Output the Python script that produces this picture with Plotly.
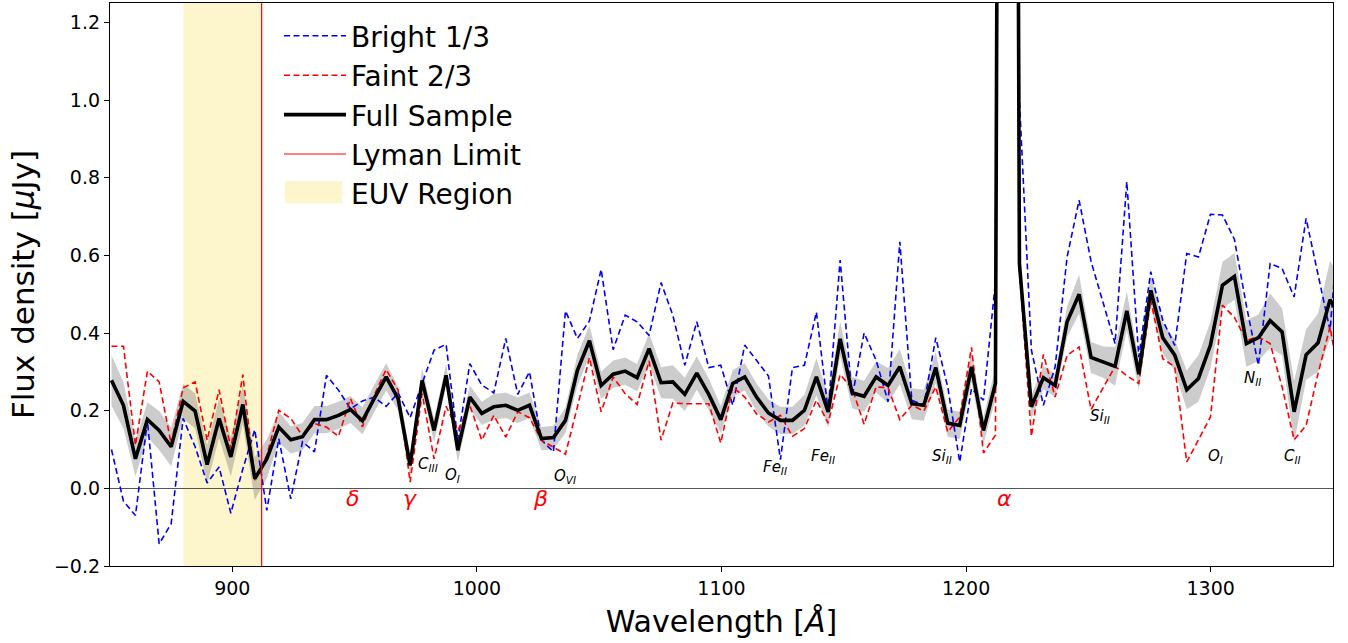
import plotly.graph_objects as go

# ---------------- data ----------------
wavelength = [
    850.6, 855.5, 860.4, 865.3, 870.1, 875.0, 879.9, 884.8, 889.7, 894.6,
    899.4, 904.3, 909.2, 914.1, 919.0, 923.9, 928.7, 933.6, 938.5, 943.4,
    948.3, 953.2, 958.0, 962.9, 967.8, 972.7, 977.6, 982.5, 987.4, 992.2,
    997.1, 1002.0, 1006.9, 1011.8, 1016.7, 1021.5, 1026.4, 1031.3, 1036.2, 1041.1,
    1046.0, 1050.8, 1055.7, 1060.6, 1065.5, 1070.4, 1075.3, 1080.1, 1085.0, 1089.9,
    1094.8, 1099.7, 1104.6, 1109.5, 1114.3, 1119.2, 1124.1, 1129.0, 1133.9, 1138.8,
    1143.6, 1148.5, 1153.4, 1158.3, 1163.2, 1168.1, 1172.9, 1177.8, 1182.7, 1187.6,
    1192.5, 1197.4, 1202.2, 1207.1, 1212.0, 1216.9, 1221.8, 1226.7, 1231.6, 1236.4,
    1241.3, 1246.2, 1251.1, 1256.0, 1260.9, 1265.7, 1270.6, 1275.5, 1280.4, 1285.3,
    1290.2, 1295.0, 1299.9, 1304.8, 1309.7, 1314.6, 1319.5, 1324.3, 1329.2, 1334.1,
    1339.0, 1343.9, 1348.8, 1353.7,
]

bright = [
    0.100, -0.033, -0.070, 0.174, -0.143, -0.091, 0.180, 0.107, 0.014, 0.055,
    -0.064, 0.050, 0.151, -0.057, 0.128, -0.027, 0.120, 0.094, 0.291, 0.253,
    0.205, 0.225, 0.235, 0.211, 0.246, 0.182, 0.270, 0.356, 0.371, 0.124,
    0.321, 0.266, 0.246, 0.386, 0.242, 0.300, 0.124, 0.094, 0.457, 0.386,
    0.431, 0.564, 0.357, 0.446, 0.429, 0.394, 0.530, 0.446, 0.317, 0.429,
    0.311, 0.317, 0.214, 0.369, 0.330, 0.289, 0.074, 0.311, 0.317, 0.454,
    0.200, 0.588, 0.235, 0.400, 0.330, 0.223, 0.635, 0.227, 0.214, 0.388,
    0.261, 0.068, 0.257, 0.227, 0.532, 10.0, 1.000, 0.356, 0.214, 0.313,
    0.596, 0.742, 0.584, 0.480, 0.373, 0.790, 0.338, 0.558, 0.433, 0.368,
    0.605, 0.596, 0.706, 0.704, 0.641, 0.470, 0.317, 0.579, 0.566, 0.493,
    0.695, 0.550, 0.407, 0.790,
]

faint = [
    0.366, 0.366, 0.111, 0.302, 0.274, 0.115, 0.259, 0.274, 0.124, 0.254,
    0.102, 0.293, 0.021, 0.085, 0.201, 0.180, 0.135, 0.167, 0.158, 0.134,
    0.231, 0.158, 0.240, 0.306, 0.253, 0.016, 0.244, 0.076, 0.211, 0.149,
    0.214, 0.124, 0.188, 0.132, 0.197, 0.182, 0.124, 0.107, 0.088, 0.210,
    0.337, 0.197, 0.287, 0.244, 0.216, 0.328, 0.124, 0.220, 0.218, 0.218,
    0.218, 0.117, 0.261, 0.235, 0.192, 0.171, 0.188, 0.134, 0.154, 0.227,
    0.168, 0.293, 0.257, 0.165, 0.261, 0.259, 0.177, 0.214, 0.199, 0.261,
    0.145, 0.184, 0.363, 0.091, 0.137, 7.0, 0.560, 0.134, 0.345, 0.235,
    0.343, 0.364, 0.203, 0.259, 0.314, 0.290, 0.270, 0.485, 0.334, 0.313,
    0.068, 0.125, 0.184, 0.472, 0.440, 0.381, 0.390, 0.373, 0.261, 0.125,
    0.162, 0.296, 0.416, 0.236,
]

full = [
    0.278, 0.214, 0.076, 0.177, 0.149, 0.107, 0.224, 0.199, 0.061, 0.180,
    0.081, 0.216, 0.025, 0.076, 0.158, 0.125, 0.133, 0.177, 0.177, 0.188,
    0.203, 0.174, 0.231, 0.287, 0.231, 0.059, 0.278, 0.149, 0.291, 0.098,
    0.235, 0.193, 0.210, 0.214, 0.201, 0.214, 0.128, 0.131, 0.175, 0.304,
    0.380, 0.265, 0.294, 0.302, 0.285, 0.360, 0.272, 0.274, 0.242, 0.297,
    0.242, 0.177, 0.270, 0.287, 0.235, 0.194, 0.175, 0.175, 0.201, 0.287,
    0.197, 0.385, 0.246, 0.237, 0.287, 0.265, 0.313, 0.218, 0.214, 0.311,
    0.168, 0.162, 0.313, 0.149, 0.270, 9.0, 0.579, 0.210, 0.285, 0.265,
    0.429, 0.500, 0.337, 0.325, 0.314, 0.457, 0.294, 0.510, 0.388, 0.343,
    0.254, 0.283, 0.369, 0.523, 0.546, 0.373, 0.388, 0.432, 0.403, 0.197,
    0.344, 0.375, 0.486, 0.435,
]

full_err = [
    0.065, 0.060, 0.045, 0.045, 0.050, 0.050, 0.045, 0.045, 0.050, 0.050,
    0.050, 0.050, 0.055, 0.050, 0.040, 0.035, 0.035, 0.035, 0.035, 0.035,
    0.035, 0.035, 0.035, 0.035, 0.030, 0.030, 0.030, 0.030, 0.030, 0.030,
    0.030, 0.030, 0.033, 0.033, 0.033, 0.033, 0.030, 0.030, 0.033, 0.040,
    0.040, 0.035, 0.035, 0.035, 0.035, 0.040, 0.040, 0.043, 0.043, 0.043,
    0.040, 0.035, 0.035, 0.035, 0.035, 0.035, 0.035, 0.035, 0.040, 0.048,
    0.040, 0.045, 0.040, 0.040, 0.040, 0.045, 0.045, 0.040, 0.040, 0.040,
    0.035, 0.035, 0.040, 0.035, 0.040, 0.500, 0.050, 0.030, 0.030, 0.030,
    0.040, 0.050, 0.040, 0.040, 0.050, 0.050, 0.040, 0.040, 0.040, 0.040,
    0.050, 0.060, 0.060, 0.060, 0.060, 0.060, 0.060, 0.070, 0.060, 0.080,
    0.065, 0.075, 0.100, 0.100,
]

lyman_limit = 912.0
euv_start, euv_end = 880.0, 912.0
x_range = [850, 1350]
y_range = [-0.2, 1.25]

series_names = ["Bright 1/3", "Faint 2/3", "Full Sample", "Lyman Limit", "EUV Region"]

lyman_series = ["δ", "γ", "β", "α"]
lyman_series_wl = [949.0, 972.8, 1025.8, 1215.8]
lyman_series_y = -0.025

ion_names = [("C", "III"), ("O", "I"), ("O", "VI"), ("Fe", "II"), ("Fe", "II"),
             ("Si", "II"), ("Si", "II"), ("O", "I"), ("N", "II"), ("C", "II")]
ion_wl = [980.2, 990.0, 1036.1, 1122.0, 1141.6, 1190.2, 1254.8, 1301.8, 1316.9, 1333.6]
ion_y = [0.062, 0.034, 0.031, 0.054, 0.082, 0.082, 0.186, 0.082, 0.284, 0.082]

# ---------------- figure ----------------
FONT = "DejaVu Sans"
EUV_COLOR = "#fdf5cb"
PLOT_W = 1223.0
upper = [f + e for f, e in zip(full, full_err)]
lower = [f - e for f, e in zip(full, full_err)]

fig = go.Figure()

# uncertainty band
fig.add_trace(go.Scatter(x=wavelength, y=upper, mode="lines", line=dict(width=0),
                         showlegend=False, hoverinfo="skip"))
fig.add_trace(go.Scatter(x=wavelength, y=lower, mode="lines", line=dict(width=0),
                         fill="tonexty", fillcolor="rgba(128,128,128,0.40)",
                         showlegend=False, hoverinfo="skip"))

fig.add_trace(go.Scatter(x=wavelength, y=bright, mode="lines", name=series_names[0],
                         line=dict(color="#0000ff", width=1.6, dash="6px,3.5px")))
fig.add_trace(go.Scatter(x=wavelength, y=faint, mode="lines", name=series_names[1],
                         line=dict(color="#ff0000", width=1.6, dash="6px,3.5px")))
fig.add_trace(go.Scatter(x=wavelength, y=full, mode="lines", name=series_names[2],
                         line=dict(color="black", width=3.6)))
# legend entries for the Lyman limit line and EUV region
fig.add_trace(go.Scatter(x=[None], y=[None], mode="lines", name=series_names[3],
                         line=dict(color="#ff0000", width=1.2)))
fig.add_trace(go.Scatter(x=[None], y=[None], mode="lines", name=series_names[4],
                         line=dict(color=EUV_COLOR, width=1)))

# EUV region and Lyman limit
fig.add_shape(type="rect", xref="x", yref="paper", x0=euv_start, x1=euv_end, y0=0, y1=1,
              fillcolor=EUV_COLOR, line=dict(width=0), layer="below")
fig.add_shape(type="line", xref="x", yref="paper", x0=lyman_limit, x1=lyman_limit, y0=0, y1=1,
              line=dict(color="#ff0000", width=1.2), layer="above")

# legend patch for the EUV region (taller swatch, as in a matplotlib legend)
LEG_X, LEG_ITEMW = 169.0 / PLOT_W, 62
fig.add_shape(type="rect", xref="paper", yref="paper",
              x0=LEG_X + 6 / PLOT_W, x1=LEG_X + (LEG_ITEMW + 1) / PLOT_W,
              y0=0.6445, y1=0.6835, fillcolor=EUV_COLOR, line=dict(width=0), layer="above")

# Greek-letter labels
for lab, wl in zip(lyman_series, lyman_series_wl):
    fig.add_annotation(x=wl, y=lyman_series_y, text=f"<i>{lab}</i>", showarrow=False,
                       font=dict(family=FONT, size=22, color="#ff0000"),
                       xanchor="center", yanchor="middle")

# ion labels
for (el, st), wl, yy in zip(ion_names, ion_wl, ion_y):
    fig.add_annotation(x=wl, y=yy, text=f"<i>{el}</i><sub><i>{st}</i></sub>", showarrow=False,
                       font=dict(family=FONT, size=15, color="black"),
                       xanchor="center", yanchor="middle")

fig.update_layout(
    width=1348, height=643,
    margin=dict(l=110, r=15, t=3, b=77),
    paper_bgcolor="white", plot_bgcolor="white",
    font=dict(family=FONT, color="black"),
    showlegend=True,
    legend=dict(x=LEG_X, y=0.9856, xanchor="left", yanchor="top",
                bgcolor="rgba(0,0,0,0)", borderwidth=0,
                font=dict(family=FONT, size=28, color="black"),
                traceorder="normal", itemwidth=LEG_ITEMW),
)

fig.update_xaxes(range=x_range, tickvals=[900, 1000, 1100, 1200, 1300],
                 showgrid=False, zeroline=False,
                 showline=True, linecolor="black", linewidth=1.3, mirror=True,
                 ticks="outside", ticklen=5, tickwidth=1.2, tickcolor="black",
                 tickfont=dict(family=FONT, size=19, color="black"),
                 title=dict(text="Wavelength [<i>Å</i>]", font=dict(family=FONT, size=30),
                            standoff=13))
fig.update_yaxes(range=y_range, tickvals=[-0.2, 0.0, 0.2, 0.4, 0.6, 0.8, 1.0, 1.2],
                 tickformat=".1f",
                 showgrid=False, zeroline=True, zerolinecolor="#555555", zerolinewidth=1.3,
                 showline=True, linecolor="black", linewidth=1.3, mirror=True,
                 ticks="outside", ticklen=5, tickwidth=1.2, tickcolor="black",
                 tickfont=dict(family=FONT, size=19, color="black"),
                 title=dict(text="Flux density [<i>μ</i>Jy]", font=dict(family=FONT, size=31),
                            standoff=10))

fig.write_html("out.html", config={"displayModeBar": False},
               post_script="document.body.style.margin='0px';")
